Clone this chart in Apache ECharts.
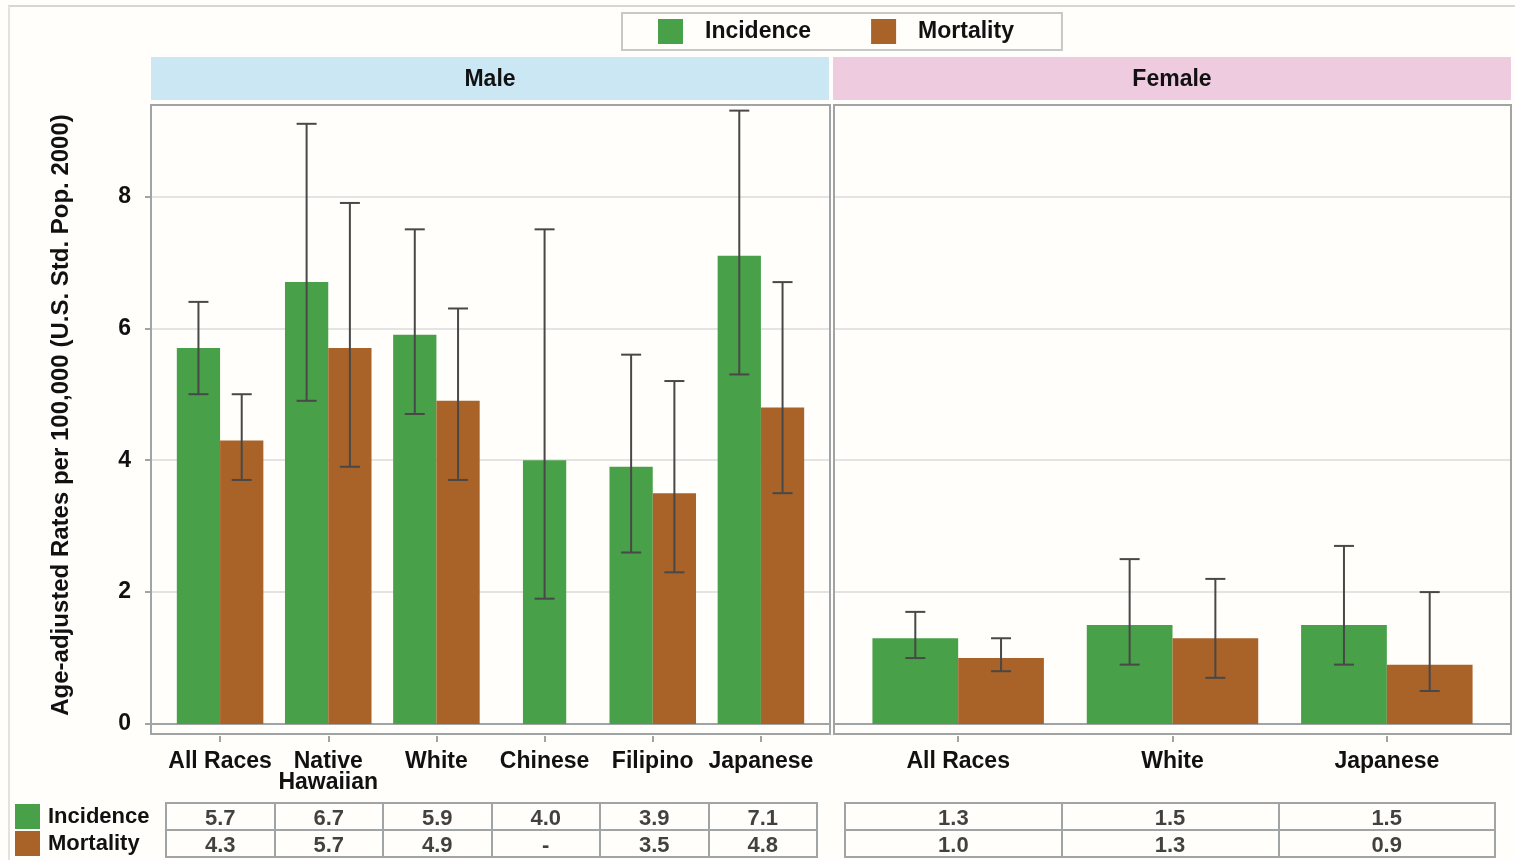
<!DOCTYPE html>
<html><head><meta charset="utf-8">
<script src="https://cdn.jsdelivr.net/npm/echarts@6/dist/echarts.min.js"></script>
<style>html,body{margin:0;padding:0;background:#fffefa;}#c{width:1515px;height:860px;}</style>
</head><body><div id="c"></div>
<script>
// ---- data ----
const maleCats = ['All Races', 'Native\nHawaiian', 'White', 'Chinese', 'Filipino', 'Japanese'];
const maleInc = [5.7, 6.7, 5.9, 4.0, 3.9, 7.1];
const maleMort = [4.3, 5.7, 4.9, null, 3.5, 4.8];
const maleIncLow = [5.0, 4.9, 4.7, 1.9, 2.6, 5.3];
const maleIncHigh = [6.4, 9.1, 7.5, 7.5, 5.6, 9.3];
const maleMortLow = [3.7, 3.9, 3.7, null, 2.3, 3.5];
const maleMortHigh = [5.0, 7.9, 6.3, null, 5.2, 6.7];
const femaleCats = ['All Races', 'White', 'Japanese'];
const femaleInc = [1.3, 1.5, 1.5];
const femaleMort = [1.0, 1.3, 0.9];
const femaleIncLow = [1.0, 0.9, 0.9];
const femaleIncHigh = [1.7, 2.5, 2.7];
const femaleMortLow = [0.8, 0.7, 0.5];
const femaleMortHigh = [1.3, 2.2, 2.0];
const yTicks = [0, 2, 4, 6, 8];
const rowNames = ['Incidence', 'Mortality'];

// ---- style ----
const GREEN = '#48a048', BROWN = '#a96228';
const FRAME = '#a0a4a4', GRIDC = '#e4e4e4', ERR = '#484848', TXT = '#111';
const FONT = 'Liberation Sans';
const YMAX = 9.37;

const chart = echarts.init(document.getElementById('c'));

function errData(low, high, lowM, highM, mort) {
  const out = [];
  low.forEach((v, i) => {
    const single = mort && mort[i] == null;
    out.push([i, v, high[i], single ? 2 : 0]);
    if (lowM[i] != null) out.push([i, lowM[i], highM[i], 1]);
  });
  return out;
}
function renderErr(params, api) {
  const c = api.value(0);
  const x0 = api.coord([c, 0])[0];
  const band = api.size([1, 0])[0];
  const k = api.value(3);
  const x = x0 + (k === 0 ? -0.2 : k === 1 ? 0.2 : 0) * band;
  const yl = api.coord([c, api.value(1)])[1];
  const yh = api.coord([c, api.value(2)])[1];
  const st = { stroke: ERR, lineWidth: 2 };
  return { type: 'group', children: [
    { type: 'line', shape: { x1: x, y1: yl, x2: x, y2: yh }, style: st },
    { type: 'line', shape: { x1: x - 10, y1: yh, x2: x + 10, y2: yh }, style: st },
    { type: 'line', shape: { x1: x - 10, y1: yl, x2: x + 10, y2: yl }, style: st }
  ]};
}
function tableData(inc, mort) {
  const d = [];
  inc.forEach((v, i) => d.push([i, 0, v == null ? '-' : v.toFixed(1)]));
  mort.forEach((v, i) => d.push([i, 1, v == null ? '-' : v.toFixed(1)]));
  return d;
}

const frameX = (gi) => ({ type: 'value', gridIndex: gi, min: 0, max: 1, axisLine: { show: true, lineStyle: { color: FRAME, width: 2 } }, axisTick: { show: false }, axisLabel: { show: false }, splitLine: { show: false } });
const frameY = (gi, labels) => ({
  type: 'value', gridIndex: gi, min: 0, max: YMAX, interval: 2,
  axisLine: { show: false },
  axisTick: { show: labels, length: 6, customValues: yTicks, lineStyle: { color: FRAME, width: 2 } },
  axisLabel: { show: labels, customValues: yTicks, margin: 20, fontSize: 23, fontWeight: 'bold', color: TXT, fontFamily: FONT },
  splitLine: { show: true, showMinLine: false, lineStyle: { color: GRIDC, width: 2 } },
  name: labels ? 'Age-adjusted Rates per 100,000 (U.S. Std. Pop. 2000)' : '',
  nameLocation: 'middle', nameGap: 78, nameRotate: 90,
  nameTextStyle: { fontSize: 24, fontWeight: 'bold', color: TXT, fontFamily: FONT }
});
const barX = (gi, cats) => ({ type: 'category', gridIndex: gi, data: cats, show: false });
const labelX = (gi, cats) => ({
  type: 'category', gridIndex: gi, data: cats, position: 'bottom',
  axisLine: { show: false },
  axisTick: { show: true, inside: false, alignWithLabel: true, length: 6, lineStyle: { color: FRAME, width: 2 } },
  axisLabel: { margin: 15, fontSize: 23, fontWeight: 'bold', color: TXT, fontFamily: FONT, lineHeight: 21, interval: 0 },
  splitLine: { show: false }
});
const hiddenY = (gi) => ({ type: 'value', gridIndex: gi, min: 0, max: YMAX, show: false });
const tableX = (gi, cats) => ({
  type: 'category', gridIndex: gi, data: cats, axisLine: { show: false }, axisTick: { show: false }, axisLabel: { show: false },
  splitLine: { show: true, interval: 0, lineStyle: { color: FRAME, width: 2 } }
});
const tableY = (gi, labels) => ({
  type: 'category', gridIndex: gi, data: rowNames, inverse: true,
  axisLine: { show: false }, axisTick: { show: false },
  axisLabel: labels ? {
    show: true, align: 'left', margin: 151,
    formatter: (v, i) => '{sq' + i + '|}{t|' + v + '}',
    rich: {
      sq0: { width: 25, height: 25, backgroundColor: GREEN },
      sq1: { width: 25, height: 25, backgroundColor: BROWN },
      t: { fontSize: 22, fontWeight: 'bold', color: TXT, fontFamily: FONT, padding: [0, 0, 0, 8] }
    }
  } : { show: false },
  splitLine: { show: true, lineStyle: { color: FRAME, width: 2 } }
});
const tableSeries = (xi, yi, inc, mort) => ({
  type: 'scatter', xAxisIndex: xi, yAxisIndex: yi, data: tableData(inc, mort),
  symbolSize: 1, itemStyle: { color: 'rgba(0,0,0,0)' }, silent: true,
  label: { show: true, position: 'inside', offset: [0, 2], formatter: p => p.data[2], fontSize: 22, fontWeight: 'bold', color: TXT, fontFamily: FONT }
});

const option = {
  backgroundColor: '#fffefa',
  animation: false,
  textStyle: { fontFamily: FONT },
  legend: {
    left: 622, top: 13, data: ['Incidence', 'Mortality'], selectedMode: false,
    icon: 'rect', itemWidth: 25, itemHeight: 25, itemGap: 60,
    padding: [6, 48, 6, 36], borderColor: '#c8c8c8', borderWidth: 2,
    textStyle: { fontSize: 23, fontWeight: 'bold', color: TXT, fontFamily: FONT, padding: [3, 0, 0, 17] }
  },
  grid: [
    { left: 151, width: 679, top: 106, height: 618 },
    { left: 166, width: 649, top: 106, height: 618 },
    { left: 834, width: 677, top: 106, height: 618 },
    { left: 851, width: 643, top: 106, height: 618 },
    { left: 166, width: 651, top: 803, height: 54, show: true, borderColor: FRAME, borderWidth: 2 },
    { left: 845, width: 650, top: 803, height: 54, show: true, borderColor: FRAME, borderWidth: 2 },
    { left: 166, width: 649, top: 735, height: 1 },
    { left: 851, width: 643, top: 735, height: 1 }
  ],
  xAxis: [
    frameX(0),
    barX(1, maleCats),
    barX(1, maleCats),
    frameX(2),
    barX(3, femaleCats),
    tableX(4, maleCats),
    tableX(5, femaleCats),
    labelX(6, maleCats),
    labelX(7, femaleCats)
  ],
  yAxis: [
    frameY(0, true),
    hiddenY(1),
    frameY(2, false),
    hiddenY(3),
    tableY(4, true),
    tableY(5, false),
    hiddenY(6),
    hiddenY(7)
  ],
  series: [
    { name: 'Incidence', type: 'bar', xAxisIndex: 1, yAxisIndex: 1, barGap: '0%', barCategoryGap: '20%',
      itemStyle: { color: GREEN }, data: maleInc.map((v, i) => maleMort[i] == null ? null : v) },
    { name: 'Mortality', type: 'bar', xAxisIndex: 1, yAxisIndex: 1, barGap: '0%', barCategoryGap: '20%',
      itemStyle: { color: BROWN }, data: maleMort },
    { name: 'Incidence', type: 'bar', xAxisIndex: 2, yAxisIndex: 1, barWidth: '40%',
      itemStyle: { color: GREEN }, data: maleInc.map((v, i) => maleMort[i] == null ? v : null) },
    { name: 'Incidence', type: 'bar', xAxisIndex: 4, yAxisIndex: 3, barGap: '0%', barCategoryGap: '20%',
      itemStyle: { color: GREEN }, data: femaleInc },
    { name: 'Mortality', type: 'bar', xAxisIndex: 4, yAxisIndex: 3, barGap: '0%', barCategoryGap: '20%',
      itemStyle: { color: BROWN }, data: femaleMort },
    { type: 'custom', xAxisIndex: 1, yAxisIndex: 1, z: 5, renderItem: renderErr,
      data: errData(maleIncLow, maleIncHigh, maleMortLow, maleMortHigh, maleMort) },
    { type: 'custom', xAxisIndex: 4, yAxisIndex: 3, z: 5, renderItem: renderErr,
      data: errData(femaleIncLow, femaleIncHigh, femaleMortLow, femaleMortHigh, femaleMort) },
    tableSeries(5, 4, maleInc, maleMort),
    tableSeries(6, 5, femaleInc, femaleMort)
  ],
  graphic: [
    { type: 'line', z: 1, shape: { x1: 8, y1: 6, x2: 1515, y2: 6 }, style: { stroke: '#d6d6d2', lineWidth: 2 } },
    { type: 'line', z: 1, shape: { x1: 9, y1: 6, x2: 9, y2: 860 }, style: { stroke: '#e2e2de', lineWidth: 2 } },
    { type: 'rect', z: 1, shape: { x: 151, y: 57, width: 678, height: 43 }, style: { fill: '#cbe7f3' } },
    { type: 'rect', z: 1, shape: { x: 833, y: 57, width: 678, height: 43 }, style: { fill: '#eecbdf' } },
    { type: 'text', z: 2, x: 490, y: 80, style: { text: 'Male', fontSize: 23, fontWeight: 'bold', fill: TXT, fontFamily: FONT, align: 'center', verticalAlign: 'middle' } },
    { type: 'text', z: 2, x: 1172, y: 80, style: { text: 'Female', fontSize: 23, fontWeight: 'bold', fill: TXT, fontFamily: FONT, align: 'center', verticalAlign: 'middle' } },
    { type: 'rect', z: 100, shape: { x: 151, y: 105, width: 679, height: 629 }, style: { fill: 'none', stroke: FRAME, lineWidth: 2 } },
    { type: 'rect', z: 100, shape: { x: 834, y: 105, width: 677, height: 629 }, style: { fill: 'none', stroke: FRAME, lineWidth: 2 } }
  ]
};
chart.setOption(option);
</script>
</body></html>
